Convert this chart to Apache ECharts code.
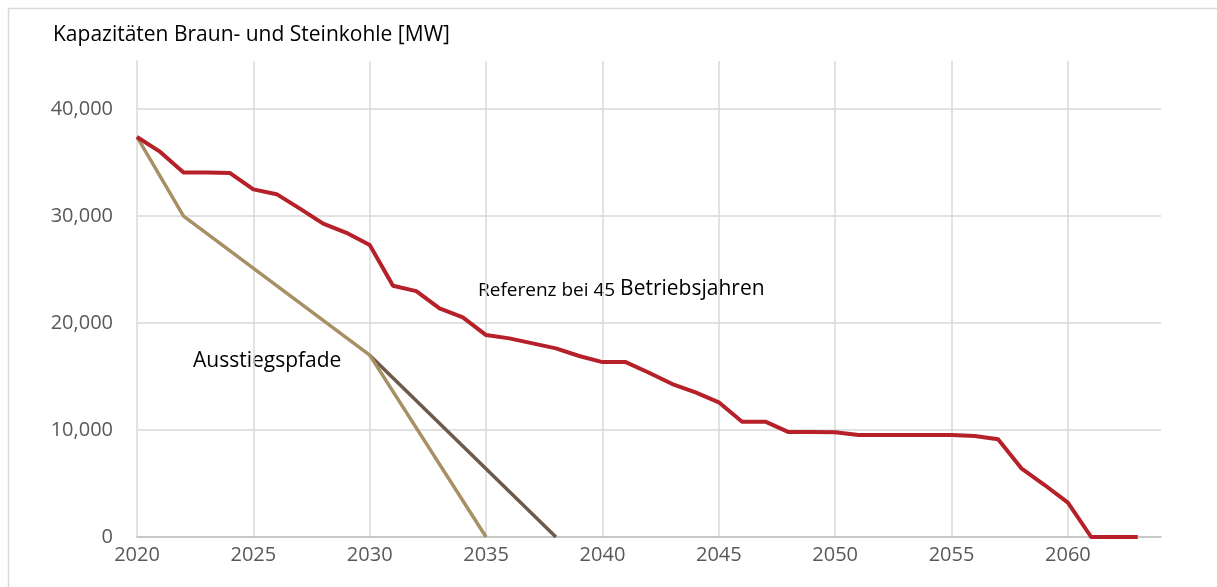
<!DOCTYPE html>
<html>
<head>
<meta charset="utf-8">
<script src="https://cdn.jsdelivr.net/npm/echarts@6/dist/echarts.min.js"></script>
<style>
html,body{margin:0;padding:0;background:#fff;}
#c{width:1217px;height:587px;}
</style>
</head>
<body>
<div id="c"></div>
<script>
var years = [2020,2021,2022,2023,2024,2025,2026,2027,2028,2029,2030,2031,2032,2033,2034,2035,2036,2037,2038,2039,2040,2041,2042,2043,2044,2045,2046,2047,2048,2049,2050,2051,2052,2053,2054,2055,2056,2057,2058,2059,2060,2061,2062,2063];
var referenz = [37400,36000,34080,34080,34020,32500,32050,30700,29300,28440,27290,23490,22990,21370,20530,18880,18570,18100,17630,16920,16350,16350,15360,14300,13520,12590,10780,10780,9810,9810,9790,9530,9530,9530,9530,9530,9440,9130,6420,4860,3210,0,0,0];
var pfadYearsA = [2020,2022,2030,2035];
var pfadA = [37400,30000,17000,0];
var pfadYearsB = [2030,2038];
var pfadB = [17000,0];
var yTicks = [0,10000,20000,30000,40000];
var xTicks = [2020,2025,2030,2035,2040,2045,2050,2055,2060];

function pairs(xs, ys){ return xs.map(function(x,i){ return [x, ys[i]]; }); }

var FONT = '"Open Sans", sans-serif';
var chart = echarts.init(document.getElementById('c'), null, {renderer:'canvas'});
chart.setOption({
  animation: false,
  backgroundColor: '#fff',
  textStyle: {fontFamily: FONT},
  grid: {left: 137, top: 61, right: 56, bottom: 50, containLabel: false},
  xAxis: {
    type: 'value', min: 2020, max: 2064, interval: 5,
    axisLine: {show: true, lineStyle: {color: '#BFBFBF', width: 1.5}},
    axisTick: {show: false},
    axisLabel: {
      color: '#595959', fontSize: 20, fontFamily: FONT, margin: 8,
      showMaxLabel: false,
      formatter: function(v){ return xTicks.indexOf(v) >= 0 ? String(v) : ''; }
    },
    splitLine: {show: true, showMinLine: false, showMaxLine: false, lineStyle: {color: '#D9D9D9', width: 1.5}}
  },
  yAxis: {
    type: 'value', min: 0, max: 44500, interval: 10000,
    axisLine: {show: true, lineStyle: {color: '#D9D9D9', width: 1.5}},
    axisTick: {show: false},
    axisLabel: {
      color: '#595959', fontSize: 20, fontFamily: FONT, margin: 24,
      showMaxLabel: false,
      formatter: function(v){ return yTicks.indexOf(v) >= 0 ? v.toLocaleString('en-US') : ''; }
    },
    splitLine: {show: true, showMaxLine: false, lineStyle: {color: '#D9D9D9', width: 1.5}}
  },
  series: [
    {type: 'line', data: pairs(pfadYearsB, pfadB), symbol: 'none', z: 2,
     lineStyle: {color: '#6E5A4B', width: 3.5}},
    {type: 'line', data: pairs(pfadYearsA, pfadA), symbol: 'none', z: 3,
     lineStyle: {color: '#A89066', width: 3.5}},
    {type: 'line', data: pairs(years, referenz), symbol: 'none', z: 4,
     lineStyle: {color: '#B52029', width: 4, join: 'round'}}
  ],
  graphic: [
    {type: 'rect', shape: {x: 8.5, y: 8.5, width: 1300, height: 700}, style: {fill: 'none', stroke: '#D9D9D9', lineWidth: 1.5}, silent: true},
    {type: 'text', left: 53, top: 25, style: {text: 'Kapazitäten Braun- und Steinkohle [MW]', fill: '#000', font: '21px ' + FONT}},
    {type: 'text', left: 478, top: 279, style: {
      text: '{a|Referenz bei 45 }{b|Betriebsjahren}',
      rich: {a: {fontSize: 19, fontFamily: FONT, fill: '#000', verticalAlign: 'bottom'}, b: {fontSize: 21, fontFamily: FONT, fill: '#000', verticalAlign: 'bottom'}}
    }},
    {type: 'text', left: 193, top: 351, style: {text: 'Ausstiegspfade', fill: '#000', font: '21px ' + FONT}}
  ]
});
</script>
</body>
</html>
